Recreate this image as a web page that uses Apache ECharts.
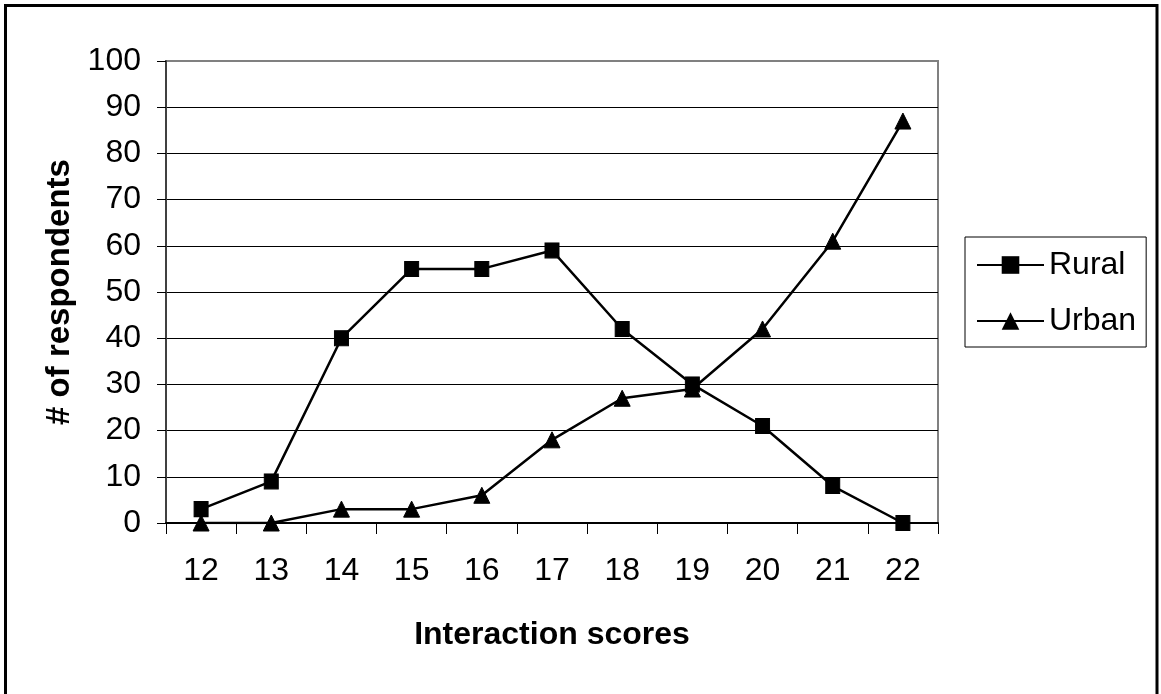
<!DOCTYPE html>
<html>
<head>
<meta charset="utf-8">
<script src="https://cdn.jsdelivr.net/npm/echarts@6/dist/echarts.min.js"></script>
<style>
  html, body { margin: 0; padding: 0; background: #fff; }
  #chart { width: 1161px; height: 694px; }
</style>
</head>
<body>
<div id="chart"></div>
<script>
// Interaction scores on the category axis
const categories = ['12', '13', '14', '15', '16', '17', '18', '19', '20', '21', '22'];
// Number of respondents per score
const rural = [3, 9, 40, 55, 55, 59, 42, 30, 21, 8, 0];
const urban = [0, 0, 3, 3, 6, 18, 27, 29, 42, 61, 87];
// Value axis ticks
const yMin = 0;
const yMax = 100;
const yStep = 10;

const FONT = '"Liberation Sans", Arial, sans-serif';

const chart = echarts.init(document.getElementById('chart'), null, { renderer: 'canvas' });

chart.setOption({
  backgroundColor: '#ffffff',
  animation: false,
  textStyle: { fontFamily: FONT, color: '#000' },
  grid: {
    left: 166, right: 223, top: 61, bottom: 171,
    show: true,
    borderColor: '#808080',
    borderWidth: 2,
    backgroundColor: 'transparent'
  },
  legend: {
    orient: 'vertical',
    left: 965,
    top: 237,
    padding: [12, 10, 10, 11],
    itemGap: 24,
    itemWidth: 67,
    itemHeight: 22,
    borderColor: '#000',
    borderWidth: 1,
    backgroundColor: '#fff',
    textStyle: { fontFamily: FONT, fontSize: 32, color: '#000' },
    data: ['Rural', 'Urban']
  },
  xAxis: {
    type: 'category',
    data: categories,
    boundaryGap: true,
    name: 'Interaction scores',
    nameLocation: 'middle',
    nameGap: 96,
    nameTextStyle: { fontFamily: FONT, fontSize: 32, fontWeight: 'bold', color: '#000' },
    axisLine: { show: true, lineStyle: { color: '#000', width: 2 } },
    axisTick: { show: true, length: 11, lineStyle: { color: '#000', width: 1 } },
    axisLabel: { margin: 32, fontFamily: FONT, fontSize: 32, color: '#000' },
    splitLine: { show: false }
  },
  yAxis: {
    type: 'value',
    min: yMin,
    max: yMax,
    interval: yStep,
    name: '# of respondents',
    nameLocation: 'middle',
    nameGap: 88,
    nameTextStyle: { fontFamily: FONT, fontSize: 33, fontWeight: 'bold', color: '#000' },
    axisLine: { show: true, lineStyle: { color: '#404040', width: 2 } },
    axisTick: { show: true, inside: false, length: 9, lineStyle: { color: '#000', width: 1 } },
    axisLabel: { margin: 25, fontFamily: FONT, fontSize: 32, color: '#000' },
    splitLine: { show: true, showMinLine: false, showMaxLine: false, lineStyle: { color: '#000', width: 1 } }
  },
  series: [
    {
      name: 'Rural',
      type: 'line',
      data: rural,
      symbol: 'rect',
      symbolSize: [14, 15],
      showAllSymbol: true,
      lineStyle: { color: '#000', width: 2.5 },
      itemStyle: { color: '#000', borderColor: '#000' },
      z: 3
    },
    {
      name: 'Urban',
      type: 'line',
      data: urban,
      symbol: 'triangle',
      symbolSize: [16, 16],
      showAllSymbol: true,
      lineStyle: { color: '#000', width: 2.5 },
      itemStyle: { color: '#000', borderColor: '#000' },
      z: 3
    }
  ],
  graphic: [
    {
      type: 'rect',
      silent: true,
      z: 100,
      shape: { x: 5.5, y: 5.5, width: 1151.5, height: 720 },
      style: { fill: 'none', stroke: '#000', lineWidth: 3 }
    }
  ]
});
</script>
</body>
</html>
